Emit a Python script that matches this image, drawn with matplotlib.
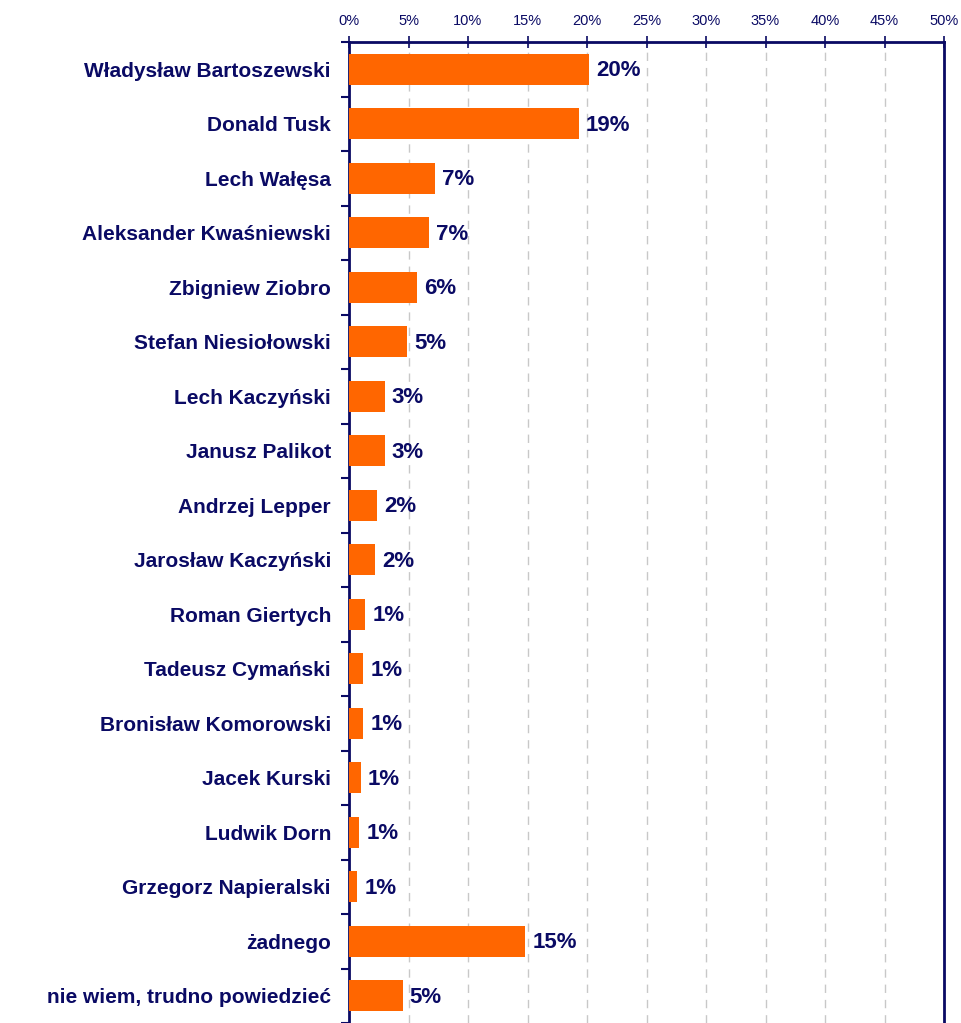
import matplotlib
matplotlib.use("Agg")
import matplotlib.pyplot as plt
import numpy as np

names = ["Władysław Bartoszewski", "Donald Tusk", "Lech Wałęsa",
         "Aleksander Kwaśniewski", "Zbigniew Ziobro", "Stefan Niesiołowski",
         "Lech Kaczyński", "Janusz Palikot", "Andrzej Lepper",
         "Jarosław Kaczyński", "Roman Giertych", "Tadeusz Cymański",
         "Bronisław Komorowski", "Jacek Kurski", "Ludwik Dorn",
         "Grzegorz Napieralski", "żadnego", "nie wiem, trudno powiedzieć"]
values = [20.2, 19.3, 7.2, 6.7, 5.7, 4.9, 3.0, 3.0, 2.35, 2.2,
          1.35, 1.2, 1.2, 1.0, 0.85, 0.7, 14.8, 4.5]
labels = ["20%", "19%", "7%", "7%", "6%", "5%", "3%", "3%", "2%", "2%",
          "1%", "1%", "1%", "1%", "1%", "1%", "15%", "5%"]
xticks = list(range(0, 55, 5))

navy = "#0a0a64"
orange = "#ff6600"
plt.rcParams['font.family'] = ['Liberation Sans', 'DejaVu Sans']

fig = plt.figure(figsize=(9.61, 10.23), dpi=100)
ax = fig.add_axes([349/961, 0.0, (944-349)/961, 1-42/1023])

y = np.arange(len(names))
ax.barh(y, values, height=0.57, color=orange, zorder=3)
for yi, v, lab in zip(y, values, labels):
    ax.text(v + 0.6, yi + 0.03, lab, va='center', ha='left', fontsize=16,
            fontweight='bold', color=navy, zorder=4)

ax.set_xlim(0, 50)
ax.set_ylim(len(names) - 0.5, -0.5)
ax.xaxis.tick_top()
ax.set_xticks(xticks)
ax.set_xticklabels([f"{t}%" for t in xticks], fontsize=10.5, color=navy)
ax.tick_params(axis='x', direction='inout', length=8, width=1.2, color=navy, pad=6)
ax.grid(axis='x', color='#c8c8c8', linestyle=(0, (6, 5)), linewidth=1, zorder=0)

ax.set_yticks(y)
ax.set_yticklabels(names, fontsize=15, fontweight='bold', color=navy)
ax.tick_params(axis='y', length=0, pad=13)
ax.set_yticks(np.arange(len(names) + 1) - 0.5, minor=True)
ax.tick_params(axis='y', which='minor', direction='out', length=6, width=1.5, color=navy)

for side in ['left', 'top', 'right']:
    ax.spines[side].set_color(navy)
    ax.spines[side].set_linewidth(2)
ax.spines['bottom'].set_visible(False)

fig.savefig("out.png", dpi=100)
